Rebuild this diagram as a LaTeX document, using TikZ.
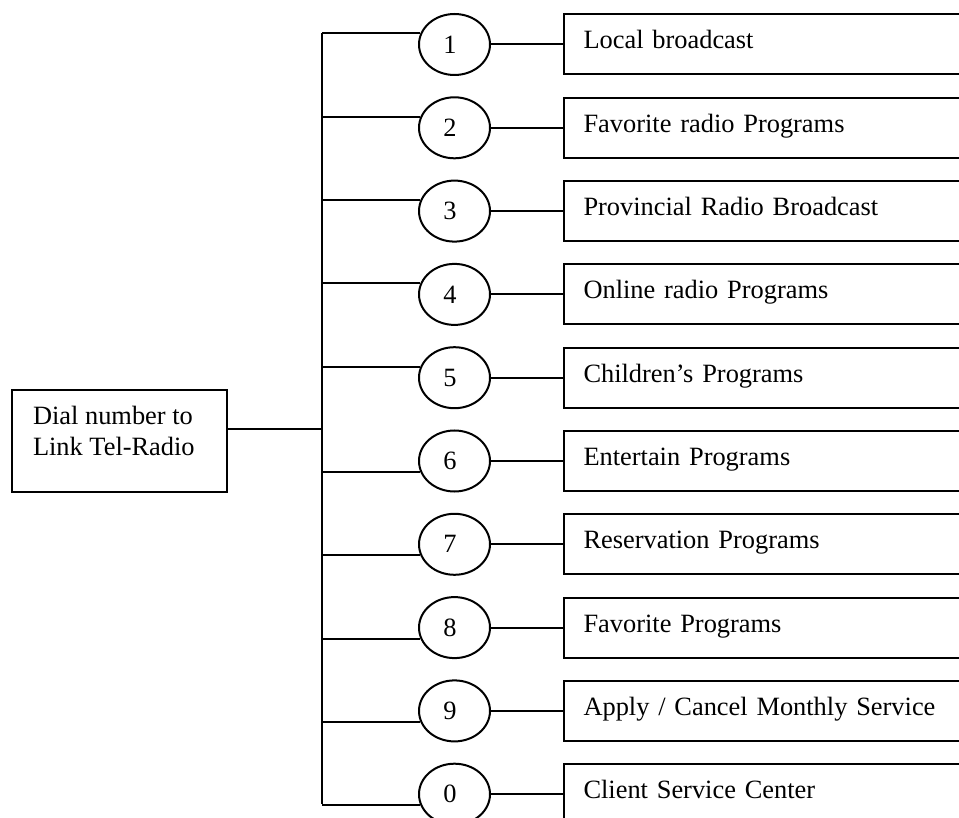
\documentclass[tikz,border=0pt]{standalone}
\usepackage{fontspec}
\setmainfont{Liberation Serif}
\usetikzlibrary{shapes.geometric}
\begin{document}
\begin{tikzpicture}[x=1pt,y=-1pt, line width=2pt,
  every node/.style={font=\fontsize{26.4}{31}\selectfont},
  numell/.style={draw, ellipse, minimum width=71pt, minimum height=61pt, inner sep=0pt},
  itembox/.style={draw, rectangle, anchor=west, minimum height=60pt, text width=400pt, align=left, inner xsep=19.5pt, inner ysep=0pt, text height=18pt, text depth=9pt},
  dialbox/.style={draw, rectangle, minimum width=215pt, minimum height=102pt, inner sep=0pt, anchor=north west}]
\useasboundingbox (0,0) rectangle (959,818);
\coordinate (stop) at (322,33);
\coordinate (sbot) at (322,804);
\coordinate (jn) at (322,429);
\draw (stop) -- (sbot);
\node[dialbox] (dial) at (11,389) {};
\node[anchor=north west, inner sep=0pt, align=left] (dialtxt) at ([xshift=21pt,yshift=-16pt]dial.north west) {Dial number to\\Link Tel-Radio};
\draw (dial.east |- jn) -- (jn);
\foreach \n/\t [count=\i from 0] in {1/{Local broadcast}, 2/{Favorite radio Programs}, 3/{Provincial Radio Broadcast}, 4/{Online radio Programs}, 5/{Children’s Programs}, 6/{Entertain Programs}, 7/{Reservation Programs}, 8/{Favorite Programs}, 9/{Apply / Cancel Monthly Service}, 0/{Client Service Center}} {
  \pgfmathsetmacro\cy{44.5+83.3*\i}
  \pgfmathtruncatemacro\ang{\i<5 ? 162 : 198}
  \node[numell] (e\n) at (454.5,\cy) {\hspace*{-9pt}\n};
  \node[itembox] (b\n) at (563,\cy) {\t};
  \draw (e\n.east) -- (b\n.west);
  \draw (e\n.\ang) -- (e\n.\ang -| stop);
}
\end{tikzpicture}
\end{document}
